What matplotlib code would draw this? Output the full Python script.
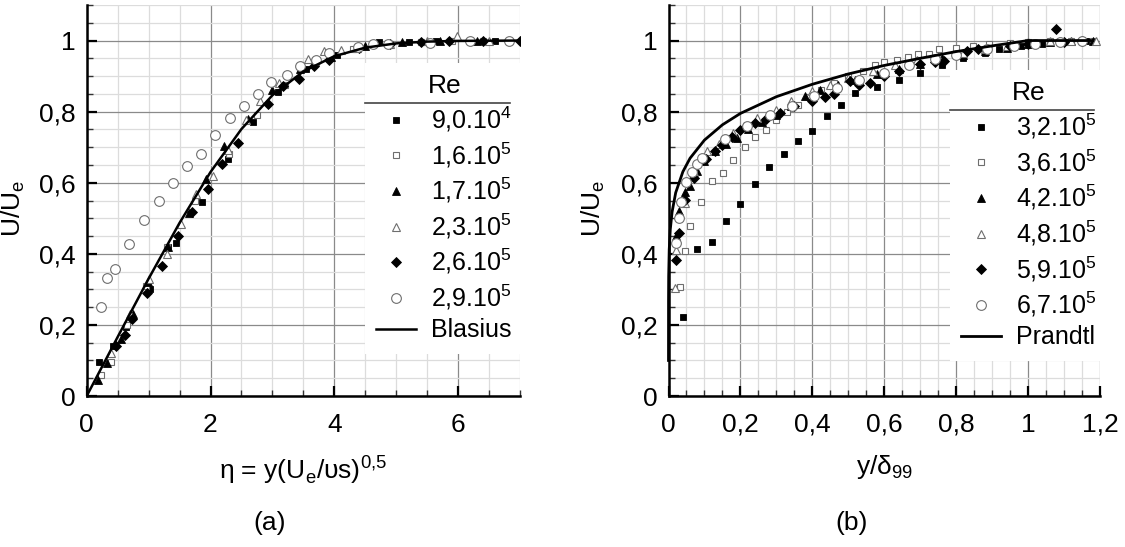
import matplotlib
matplotlib.use("Agg")
import matplotlib.pyplot as plt
from matplotlib.ticker import MultipleLocator, FuncFormatter
from matplotlib.lines import Line2D

plt.rcParams['font.family'] = ['Liberation Sans', 'DejaVu Sans']

# ---------------- Panel (a) data ----------------
a_labels = [r"9,0.10$^\mathregular{4}$", r"1,6.10$^\mathregular{5}$", r"1,7.10$^\mathregular{5}$",
            r"2,3.10$^\mathregular{5}$", r"2,6.10$^\mathregular{5}$", r"2,9.10$^\mathregular{5}$"]

a_x_90e4 = [0.20, 0.42, 0.63, 1.03, 1.31, 1.45, 1.86, 2.28, 2.69, 3.09, 3.55, 4.05, 4.73, 5.2, 5.65, 6.2, 6.6]
a_y_90e4 = [0.097, 0.142, 0.194, 0.30, 0.42, 0.43, 0.545, 0.667, 0.77, 0.855, 0.92, 0.96, 0.995, 0.995, 1.0, 0.998, 1.0]

a_x_16e5 = [0.23, 0.39, 0.65, 0.95, 1.3, 1.75, 2.3, 2.75, 3.2, 3.7, 4.3, 4.9, 5.4, 5.9, 6.4]
a_y_16e5 = [0.06, 0.097, 0.20, 0.31, 0.42, 0.55, 0.68, 0.79, 0.875, 0.94, 0.975, 0.99, 0.995, 1.0, 1.0]

a_x_17e5 = [0.19, 0.32, 0.55, 0.75, 0.99, 1.32, 1.66, 1.92, 2.22, 2.6, 3.0, 3.45, 3.95, 4.5, 5.1, 5.7, 6.3]
a_y_17e5 = [0.045, 0.093, 0.16, 0.23, 0.32, 0.42, 0.516, 0.611, 0.702, 0.78, 0.86, 0.92, 0.955, 0.985, 0.995, 1.0, 1.0]

a_x_23e5 = [0.4, 0.7, 1.0, 1.29, 1.53, 1.77, 2.04, 2.29, 2.57, 2.8, 3.1, 3.57, 3.84, 4.11, 4.37, 4.9, 5.5, 5.99, 6.5]
a_y_23e5 = [0.12, 0.23, 0.33, 0.40, 0.484, 0.568, 0.62, 0.693, 0.777, 0.829, 0.88, 0.948, 0.97, 0.973, 0.98, 0.99, 1.0, 1.012, 1.0]

a_x_26e5 = [0.48, 0.62, 0.73, 0.98, 1.22, 1.47, 1.70, 1.96, 2.19, 2.44, 2.93, 3.17, 3.43, 3.67, 3.91, 4.4, 4.9, 5.4, 5.86, 6.4, 7.0]
a_y_26e5 = [0.142, 0.172, 0.216, 0.29, 0.366, 0.45, 0.517, 0.582, 0.652, 0.712, 0.822, 0.873, 0.893, 0.928, 0.944, 0.98, 0.99, 0.995, 0.998, 1.0, 0.998]

a_x_29e5 = [0.23, 0.33, 0.46, 0.69, 0.92, 1.16, 1.39, 1.62, 1.84, 2.08, 2.31, 2.54, 2.77, 2.98, 3.23, 3.44, 3.70, 3.92, 4.38, 4.62, 4.87, 5.55, 6.2, 6.83]
a_y_29e5 = [0.25, 0.333, 0.358, 0.428, 0.495, 0.548, 0.598, 0.648, 0.681, 0.735, 0.781, 0.815, 0.851, 0.884, 0.904, 0.928, 0.946, 0.965, 0.981, 0.989, 0.99, 0.992, 0.998, 1.0]

blasius_eta = [0.0, 0.5, 1.0, 1.5, 2.0, 2.5, 3.0, 3.5, 4.0, 4.5, 5.0, 5.5, 6.0, 7.0]
blasius_u = [0.0, 0.166, 0.330, 0.487, 0.630, 0.751, 0.846, 0.913, 0.956, 0.980, 0.992, 0.997, 0.999, 1.0]

# ---------------- Panel (b) data ----------------
b_labels = [r"3,2.10$^\mathregular{5}$", r"3,6.10$^\mathregular{5}$", r"4,2.10$^\mathregular{5}$",
            r"4,8.10$^\mathregular{5}$", r"5,9.10$^\mathregular{5}$", r"6,7.10$^\mathregular{5}$"]

b_x_32e5 = [0.04, 0.08, 0.12, 0.16, 0.20, 0.24, 0.28, 0.32, 0.36, 0.40, 0.44, 0.48, 0.52, 0.58, 0.64, 0.70, 0.76, 0.82, 0.88, 0.92, 0.98, 1.04, 1.10, 1.16]
b_y_32e5 = [0.222, 0.413, 0.432, 0.491, 0.541, 0.596, 0.643, 0.682, 0.718, 0.746, 0.789, 0.82, 0.853, 0.87, 0.89, 0.91, 0.93, 0.95, 0.965, 0.975, 0.985, 0.99, 0.995, 1.0]

b_x_36e5 = [0.032, 0.046, 0.06, 0.09, 0.12, 0.152, 0.18, 0.212, 0.24, 0.272, 0.30, 0.33, 0.36, 0.39, 0.425, 0.46, 0.50, 0.54, 0.574, 0.60, 0.635, 0.667, 0.695, 0.725, 0.753, 0.80, 0.847, 0.89, 0.95, 1.0, 1.06, 1.12, 1.18]
b_y_36e5 = [0.308, 0.409, 0.477, 0.545, 0.604, 0.627, 0.664, 0.70, 0.73, 0.748, 0.776, 0.80, 0.82, 0.84, 0.862, 0.88, 0.90, 0.915, 0.932, 0.94, 0.945, 0.954, 0.962, 0.963, 0.975, 0.979, 0.986, 0.99, 0.992, 0.996, 0.998, 1.0, 1.0]

b_x_42e5 = [0.02, 0.03, 0.045, 0.06, 0.08, 0.10, 0.13, 0.16, 0.19, 0.22, 0.26, 0.30, 0.34, 0.38, 0.42, 0.47, 0.52, 0.58, 0.64, 0.70, 0.76, 0.82, 0.88, 0.94, 1.0, 1.06, 1.12, 1.18]
b_y_42e5 = [0.45, 0.52, 0.573, 0.59, 0.632, 0.66, 0.688, 0.71, 0.726, 0.75, 0.77, 0.79, 0.815, 0.843, 0.86, 0.875, 0.89, 0.905, 0.92, 0.935, 0.95, 0.96, 0.97, 0.98, 0.99, 0.995, 1.0, 1.0]

b_x_48e5 = [0.019, 0.02, 0.045, 0.07, 0.107, 0.14, 0.18, 0.21, 0.245, 0.30, 0.34, 0.40, 0.45, 0.50, 0.57, 0.63, 0.69, 0.75, 0.82, 0.88, 0.94, 1.0, 1.06, 1.12, 1.19]
b_y_48e5 = [0.303, 0.41, 0.543, 0.63, 0.688, 0.71, 0.74, 0.76, 0.782, 0.806, 0.83, 0.857, 0.875, 0.895, 0.914, 0.93, 0.945, 0.955, 0.965, 0.975, 0.985, 0.995, 1.0, 1.0, 1.0]

b_x_59e5 = [0.02, 0.03, 0.045, 0.07, 0.104, 0.128, 0.15, 0.176, 0.20, 0.24, 0.27, 0.31, 0.35, 0.40, 0.435, 0.46, 0.505, 0.53, 0.56, 0.598, 0.64, 0.70, 0.74, 0.766, 0.83, 0.86, 0.95, 1.0, 1.077, 1.1, 1.15]
b_y_59e5 = [0.383, 0.458, 0.552, 0.613, 0.667, 0.69, 0.706, 0.73, 0.749, 0.768, 0.78, 0.796, 0.815, 0.83, 0.84, 0.85, 0.885, 0.876, 0.88, 0.90, 0.914, 0.935, 0.94, 0.942, 0.97, 0.975, 0.984, 0.99, 1.033, 0.995, 1.0]

b_x_67e5 = [0.02, 0.03, 0.035, 0.048, 0.065, 0.08, 0.093, 0.156, 0.218, 0.283, 0.343, 0.405, 0.468, 0.53, 0.60, 0.67, 0.74, 0.80, 0.885, 0.96, 1.02, 1.09, 1.15]
b_y_67e5 = [0.43, 0.5, 0.545, 0.602, 0.63, 0.654, 0.67, 0.723, 0.76, 0.79, 0.817, 0.843, 0.867, 0.89, 0.91, 0.93, 0.948, 0.96, 0.975, 0.985, 0.99, 0.995, 1.0]

prandtl_x = [0.0, 0.0001, 0.0005, 0.002, 0.005, 0.01, 0.02, 0.04, 0.06, 0.1, 0.15, 0.2, 0.3, 0.4, 0.5, 0.6, 0.7, 0.8, 0.9, 1.0, 1.1, 1.18]
prandtl_u = [0.10, 0.268, 0.337, 0.412, 0.469, 0.518, 0.572, 0.631, 0.669, 0.720, 0.763, 0.795, 0.842, 0.877, 0.906, 0.930, 0.950, 0.969, 0.985, 1.0, 1.0, 1.0]

# ---------------- styles ----------------
GRAY = '#6e6e6e'
styles = [
    dict(marker='s', ms=5.0, mfc='black', mec='black', mew=0.6),
    dict(marker='s', ms=5.0, mfc='white', mec=GRAY, mew=0.8),
    dict(marker='^', ms=6.0, mfc='black', mec='black', mew=0.6),
    dict(marker='^', ms=6.0, mfc='white', mec=GRAY, mew=0.8),
    dict(marker='D', ms=4.8, mfc='black', mec='black', mew=0.6),
    dict(marker='o', ms=7.0, mfc='white', mec=GRAY, mew=0.8),
]

W, H = 1125, 547
fig = plt.figure(figsize=(W / 100, H / 100), dpi=100)
ax_a = fig.add_axes([86.7 / W, (H - 396) / H, (520 - 86.7) / W, (396 - 5) / H])
ax_b = fig.add_axes([668.5 / W, (H - 396) / H, (1100 - 668.5) / W, (396 - 5) / H])


def comma_fmt(v, pos):
    s = f"{round(v, 6):g}"
    return s.replace('.', ',')


def style_axes(ax, xmax, xmaj, xmin_step, ylab_x):
    ax.set_xlim(0, xmax)
    ax.set_ylim(0, 1.1)
    ax.xaxis.set_major_locator(MultipleLocator(xmaj))
    ax.xaxis.set_minor_locator(MultipleLocator(xmin_step))
    ax.yaxis.set_major_locator(MultipleLocator(0.2))
    ax.yaxis.set_minor_locator(MultipleLocator(0.05))
    ax.xaxis.set_major_formatter(FuncFormatter(comma_fmt))
    ax.yaxis.set_major_formatter(FuncFormatter(comma_fmt))
    ax.grid(which='major', color='#8a8a8a', lw=0.9, zorder=0)
    ax.grid(which='minor', color='#dcdcdc', lw=0.9, zorder=0)
    ax.set_axisbelow(True)
    for s in ('top', 'right'):
        ax.spines[s].set_visible(False)
    for s in ('left', 'bottom'):
        ax.spines[s].set_linewidth(1.8)
        ax.spines[s].set_color('black')
    ax.tick_params(which='major', direction='in', length=7, width=1.6, labelsize=19, color='black')
    ax.tick_params(which='minor', direction='in', length=4, width=1.0, color='#333333')
    ax.tick_params(axis='x', which='major', pad=12)
    ax.tick_params(axis='y', which='major', pad=8)
    ax.set_ylabel(r"U/U$_\mathregular{e}$", fontsize=19)
    ax.yaxis.set_label_coords(ylab_x, 0.48)


style_axes(ax_a, 7, 2, 0.5, (27 - 86.7) / 433.3)
style_axes(ax_b, 1.2, 0.2, 0.05, (607 - 668.5) / 431.5)

# panel (a)
a_series = [(a_x_90e4, a_y_90e4), (a_x_16e5, a_y_16e5), (a_x_17e5, a_y_17e5),
            (a_x_23e5, a_y_23e5), (a_x_26e5, a_y_26e5), (a_x_29e5, a_y_29e5)]
handles_a = []
for (xs, ys), st, lab in zip(a_series, styles, a_labels):
    h, = ax_a.plot(xs, ys, ls='none', label=lab, zorder=3, **st)
    handles_a.append(h)
hl, = ax_a.plot(blasius_eta, blasius_u, color='black', lw=1.8, label='Blasius', zorder=4)
handles_a.append(hl)
ax_a.set_xlabel(r"η = y(U$_\mathregular{e}$/υs)$^\mathregular{0{,}5}$", fontsize=19, labelpad=12)

# panel (b)
b_series = [(b_x_32e5, b_y_32e5), (b_x_36e5, b_y_36e5), (b_x_42e5, b_y_42e5),
            (b_x_48e5, b_y_48e5), (b_x_59e5, b_y_59e5), (b_x_67e5, b_y_67e5)]
handles_b = []
for (xs, ys), st, lab in zip(b_series, styles, b_labels):
    h, = ax_b.plot(xs, ys, ls='none', label=lab, zorder=3, **st)
    handles_b.append(h)
hp, = ax_b.plot(prandtl_x, prandtl_u, color='black', lw=2.0, label='Prandtl', zorder=4, clip_on=False)
handles_b.append(hp)
ax_b.set_xlabel(r"y/δ$_\mathregular{99}$", fontsize=19, labelpad=12)


def make_legend(ax, handles, anchor):
    leg = ax.legend(handles=handles, title='Re', loc='upper left', bbox_to_anchor=anchor,
                    borderaxespad=0, fontsize=18, title_fontsize=19, frameon=True,
                    fancybox=False, framealpha=1.0, facecolor='white', edgecolor='none',
                    handlelength=1.6, handletextpad=0.6, labelspacing=0.25, borderpad=0.45)
    leg.set_zorder(6)
    return leg


leg_a = make_legend(ax_a, handles_a, ((365 - 86.7) / (520 - 86.7), (396 - 63) / 391))
leg_b = make_legend(ax_b, handles_b, ((950 - 668.5) / (1100 - 668.5), (396 - 70) / 391))

fig.text(270 / W, 1 - 523 / H, "(a)", ha='center', va='center', fontsize=19)
fig.text(852 / W, 1 - 523 / H, "(b)", ha='center', va='center', fontsize=19)

fig.canvas.draw()
renderer = fig.canvas.get_renderer()
for leg in (leg_a, leg_b):
    tb = leg.get_title().get_window_extent(renderer)
    fb = leg.get_frame().get_window_extent(renderer)
    y = (tb.y0 - 5) / H
    fig.add_artist(Line2D([fb.x0 / W, (fb.x1 - 14) / W], [y, y], color='#444444', lw=1.2,
                          transform=fig.transFigure, zorder=10))

fig.savefig("out.png", dpi=100)
